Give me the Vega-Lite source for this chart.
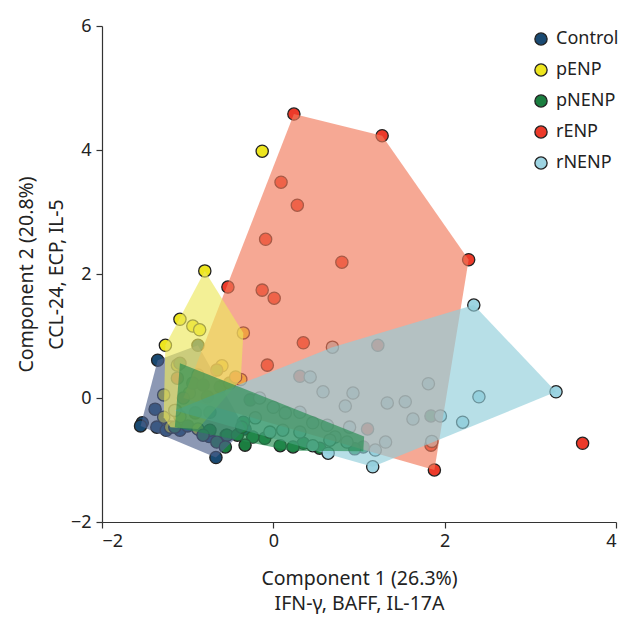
{
  "$schema": "https://vega.github.io/schema/vega-lite/v6.json",
  "autosize": "none",
  "width": 514,
  "height": 496,
  "padding": {"left": 102, "top": 26, "right": 5, "bottom": 96},
  "background": "white",
  "config": {
    "view": {"stroke": null},
    "font": "Noto Sans",
    "axis": {"grid": false, "domainColor": "#333", "tickColor": "#333", "tickSize": 6, "labelFontSize": 18, "labelColor": "#222", "titleFontSize": 19.5, "titleFontWeight": "normal", "titleColor": "#222", "domainWidth": 1.2, "tickWidth": 1.2, "format": "d"}
  },
  "datasets": {
    "pts": [
      {"g": "Control", "x": -1.35, "y": 0.61}, {"g": "Control", "x": -1.53, "y": -0.40}, {"g": "Control", "x": -1.55, "y": -0.45},
      {"g": "Control", "x": -0.67, "y": -0.96}, {"g": "Control", "x": -1.36, "y": -0.47}, {"g": "Control", "x": -1.38, "y": -0.18},
      {"g": "Control", "x": -1.25, "y": -0.52}, {"g": "Control", "x": -1.09, "y": -0.52}, {"g": "Control", "x": -0.83, "y": -0.56},
      {"g": "Control", "x": -0.88, "y": 0.85}, {"g": "Control", "x": -0.33, "y": -0.50}, {"g": "Control", "x": -1.00, "y": -0.45},
      {"g": "Control", "x": -0.55, "y": -0.60}, {"g": "Control", "x": -0.75, "y": -0.62},
      {"g": "pENP", "x": -0.13, "y": 3.98}, {"g": "pENP", "x": -0.80, "y": 2.05}, {"g": "pENP", "x": -1.09, "y": 1.27},
      {"g": "pENP", "x": -0.94, "y": 1.16}, {"g": "pENP", "x": -0.86, "y": 1.10}, {"g": "pENP", "x": -1.26, "y": 0.85},
      {"g": "pENP", "x": -0.35, "y": 1.05}, {"g": "pENP", "x": -1.28, "y": 0.05}, {"g": "pENP", "x": -1.28, "y": -0.31},
      {"g": "pENP", "x": -1.20, "y": -0.47}, {"g": "pENP", "x": -1.12, "y": 0.53}, {"g": "pENP", "x": -0.98, "y": 0.08},
      {"g": "pENP", "x": -1.14, "y": -0.20}, {"g": "pENP", "x": -1.09, "y": -0.30}, {"g": "pENP", "x": -0.88, "y": 0.37},
      {"g": "pENP", "x": -0.38, "y": 0.30}, {"g": "pENP", "x": -0.88, "y": -0.50}, {"g": "pENP", "x": -0.60, "y": 0.52},
      {"g": "pNENP", "x": 0.35, "y": -0.73}, {"g": "pNENP", "x": 0.23, "y": -0.79}, {"g": "pNENP", "x": -0.10, "y": -0.65},
      {"g": "pNENP", "x": -0.24, "y": -0.63}, {"g": "pNENP", "x": 1.05, "y": -0.79}, {"g": "pNENP", "x": -0.74, "y": -0.52},
      {"g": "pNENP", "x": -0.66, "y": -0.71}, {"g": "pNENP", "x": -0.54, "y": -0.60}, {"g": "pNENP", "x": -0.42, "y": -0.60},
      {"g": "pNENP", "x": -0.35, "y": -0.39}, {"g": "pNENP", "x": -0.37, "y": -0.47}, {"g": "pNENP", "x": -0.94, "y": 0.24},
      {"g": "pNENP", "x": -0.82, "y": 0.21}, {"g": "pNENP", "x": -0.77, "y": 0.02}, {"g": "pNENP", "x": -0.91, "y": -0.24},
      {"g": "pNENP", "x": -0.74, "y": -0.23}, {"g": "pNENP", "x": -0.62, "y": 0.18}, {"g": "pNENP", "x": -0.51, "y": 0.24},
      {"g": "pNENP", "x": -0.66, "y": 0.45}, {"g": "pNENP", "x": -0.56, "y": -0.79}, {"g": "pNENP", "x": -0.33, "y": -0.76},
      {"g": "pNENP", "x": 0.08, "y": -0.77}, {"g": "pNENP", "x": 0.54, "y": -0.81}, {"g": "pNENP", "x": 0.95, "y": -0.82},
      {"g": "pNENP", "x": -0.27, "y": -0.03}, {"g": "pNENP", "x": -0.82, "y": -0.60}, {"g": "pNENP", "x": 1.84, "y": -0.29},
      {"g": "pNENP", "x": -1.09, "y": 0.56}, {"g": "pNENP", "x": -1.15, "y": -0.47},
      {"g": "rENP", "x": 0.24, "y": 4.58}, {"g": "rENP", "x": 1.27, "y": 4.23}, {"g": "rENP", "x": 0.09, "y": 3.48},
      {"g": "rENP", "x": 0.28, "y": 3.11}, {"g": "rENP", "x": -0.09, "y": 2.56}, {"g": "rENP", "x": 0.80, "y": 2.19},
      {"g": "rENP", "x": 2.28, "y": 2.23}, {"g": "rENP", "x": -0.53, "y": 1.79}, {"g": "rENP", "x": -0.13, "y": 1.74},
      {"g": "rENP", "x": 0.01, "y": 1.61}, {"g": "rENP", "x": -0.07, "y": 0.53}, {"g": "rENP", "x": 0.35, "y": 0.89},
      {"g": "rENP", "x": 1.22, "y": 0.85}, {"g": "rENP", "x": 0.31, "y": 0.35}, {"g": "rENP", "x": 1.10, "y": -0.50},
      {"g": "rENP", "x": 1.84, "y": -0.76}, {"g": "rENP", "x": 1.88, "y": -1.16}, {"g": "rENP", "x": 3.61, "y": -0.73},
      {"g": "rENP", "x": -1.12, "y": 0.32}, {"g": "rENP", "x": -0.44, "y": 0.34}, {"g": "rENP", "x": -1.05, "y": 0.0},
      {"g": "rNENP", "x": 2.34, "y": 1.50}, {"g": "rNENP", "x": 3.30, "y": 0.10}, {"g": "rNENP", "x": 1.16, "y": -1.11},
      {"g": "rNENP", "x": 0.69, "y": 0.82}, {"g": "rNENP", "x": 0.43, "y": 0.34}, {"g": "rNENP", "x": 0.58, "y": 0.10},
      {"g": "rNENP", "x": 0.93, "y": 0.08}, {"g": "rNENP", "x": 0.84, "y": -0.13}, {"g": "rNENP", "x": 1.33, "y": -0.08},
      {"g": "rNENP", "x": 0.89, "y": -0.47}, {"g": "rNENP", "x": 1.31, "y": -0.71}, {"g": "rNENP", "x": 0.64, "y": -0.89},
      {"g": "rNENP", "x": 1.19, "y": -0.84}, {"g": "rNENP", "x": 1.54, "y": -0.06}, {"g": "rNENP", "x": 1.81, "y": 0.23},
      {"g": "rNENP", "x": 1.63, "y": -0.34}, {"g": "rNENP", "x": 1.95, "y": -0.29}, {"g": "rNENP", "x": 2.21, "y": -0.39},
      {"g": "rNENP", "x": 2.40, "y": 0.02}, {"g": "rNENP", "x": 1.85, "y": -0.70}, {"g": "rNENP", "x": 0.11, "y": -0.52},
      {"g": "rNENP", "x": 0.31, "y": -0.55}, {"g": "rNENP", "x": 0.46, "y": -0.40}, {"g": "rNENP", "x": 0.63, "y": -0.44},
      {"g": "rNENP", "x": 0.72, "y": -0.63}, {"g": "rNENP", "x": 0.86, "y": -0.71}, {"g": "rNENP", "x": 0.66, "y": -0.68},
      {"g": "rNENP", "x": 0.46, "y": -0.77}, {"g": "rNENP", "x": -0.04, "y": -0.55}, {"g": "rNENP", "x": -0.21, "y": -0.32},
      {"g": "rNENP", "x": 0.0, "y": -0.15}, {"g": "rNENP", "x": 0.14, "y": -0.24}, {"g": "rNENP", "x": 0.31, "y": -0.23},
      {"g": "rNENP", "x": -0.16, "y": 0.0}, {"g": "rNENP", "x": -1.15, "y": -0.20}
    ],
    "hull": [
      {"g": "Control", "i": 1, "x": -1.35, "y": 0.61}, {"g": "Control", "i": 2, "x": -0.88, "y": 0.85}, {"g": "Control", "i": 3, "x": -0.33, "y": -0.50},
      {"g": "Control", "i": 4, "x": -0.67, "y": -0.96}, {"g": "Control", "i": 5, "x": -1.55, "y": -0.45},
      {"g": "rENP", "i": 1, "x": 0.24, "y": 4.58}, {"g": "rENP", "i": 2, "x": 1.27, "y": 4.23}, {"g": "rENP", "i": 3, "x": 2.28, "y": 2.23},
      {"g": "rENP", "i": 4, "x": 1.88, "y": -1.16}, {"g": "rENP", "i": 5, "x": -1.05, "y": 0.0},
      {"g": "pENP", "i": 1, "x": -0.80, "y": 2.05}, {"g": "pENP", "i": 2, "x": -0.35, "y": 1.05}, {"g": "pENP", "i": 3, "x": -0.38, "y": 0.30},
      {"g": "pENP", "i": 4, "x": -0.88, "y": -0.50}, {"g": "pENP", "i": 5, "x": -1.20, "y": -0.47}, {"g": "pENP", "i": 6, "x": -1.28, "y": -0.31},
      {"g": "pENP", "i": 7, "x": -1.26, "y": 0.85},
      {"g": "rNENP", "i": 1, "x": 2.34, "y": 1.50}, {"g": "rNENP", "i": 2, "x": 3.30, "y": 0.10}, {"g": "rNENP", "i": 3, "x": 1.16, "y": -1.11},
      {"g": "rNENP", "i": 4, "x": -1.15, "y": -0.20}, {"g": "rNENP", "i": 5, "x": 0.69, "y": 0.82},
      {"g": "pNENP", "i": 1, "x": -1.09, "y": 0.56}, {"g": "pNENP", "i": 2, "x": 1.06, "y": -0.62}, {"g": "pNENP", "i": 3, "x": 1.05, "y": -0.86},
      {"g": "pNENP", "i": 4, "x": 0.20, "y": -0.85}, {"g": "pNENP", "i": 5, "x": -1.15, "y": -0.47}
    ]
  },
  "layer": [
    {
      "data": {"name": "pts"},
      "mark": {"type": "circle", "size": 150, "opacity": 1, "stroke": "#222", "strokeWidth": 1.3},
      "encoding": {
        "x": {"field": "x", "type": "quantitative", "scale": {"domain": [-2, 4], "nice": false, "zero": false},
              "axis": {"values": [-2, 0, 2, 4], "title": ["Component 1 (26.3%)", "IFN-γ, BAFF, IL-17A"], "titlePadding": 19, "titleLineHeight": 25, "labelPadding": 4}},
        "y": {"field": "y", "type": "quantitative", "scale": {"domain": [-2, 6], "nice": false, "zero": false},
              "axis": {"values": [-2, 0, 2, 4, 6], "title": ["Component 2 (20.8%)", "CCL-24, ECP, IL-5"], "titlePadding": 4, "titleLineHeight": 30, "labelPadding": 5}},
        "fill": {"field": "g", "type": "nominal",
                 "scale": {"domain": ["Control", "pENP", "pNENP", "rENP", "rNENP"], "range": ["#1A4A72", "#EDE51F", "#1B7E40", "#EC3A2A", "#9DD4E2"]},
                 "legend": {"title": null, "orient": "none", "legendX": 430, "legendY": 4, "labelFontSize": 18, "labelColor": "#222", "symbolType": "circle", "symbolSize": 150, "symbolStrokeColor": "#222", "symbolStrokeWidth": 1.3, "symbolOpacity": 1, "rowPadding": 13, "labelOffset": 6}}
      }
    },
    {"data": {"name": "hull"}, "transform": [{"filter": "datum.g === 'Control'"}],
     "mark": {"type": "line", "interpolate": "linear-closed", "fill": "#4E618C", "fillOpacity": 0.65, "strokeWidth": 0},
     "encoding": {"x": {"field": "x", "type": "quantitative"}, "y": {"field": "y", "type": "quantitative"}, "order": {"field": "i"}}},
    {"data": {"name": "hull"}, "transform": [{"filter": "datum.g === 'rENP'"}],
     "mark": {"type": "line", "interpolate": "linear-closed", "fill": "#F17A5A", "fillOpacity": 0.65, "strokeWidth": 0},
     "encoding": {"x": {"field": "x", "type": "quantitative"}, "y": {"field": "y", "type": "quantitative"}, "order": {"field": "i"}}},
    {"data": {"name": "hull"}, "transform": [{"filter": "datum.g === 'pENP'"}],
     "mark": {"type": "line", "interpolate": "linear-closed", "fill": "#EDE85D", "fillOpacity": 0.65, "strokeWidth": 0},
     "encoding": {"x": {"field": "x", "type": "quantitative"}, "y": {"field": "y", "type": "quantitative"}, "order": {"field": "i"}}},
    {"data": {"name": "hull"}, "transform": [{"filter": "datum.g === 'rNENP'"}],
     "mark": {"type": "line", "interpolate": "linear-closed", "fill": "#90CEDA", "fillOpacity": 0.65, "strokeWidth": 0},
     "encoding": {"x": {"field": "x", "type": "quantitative"}, "y": {"field": "y", "type": "quantitative"}, "order": {"field": "i"}}},
    {"data": {"name": "hull"}, "transform": [{"filter": "datum.g === 'pNENP'"}],
     "mark": {"type": "line", "interpolate": "linear-closed", "fill": "#238C50", "fillOpacity": 0.65, "strokeWidth": 0},
     "encoding": {"x": {"field": "x", "type": "quantitative"}, "y": {"field": "y", "type": "quantitative"}, "order": {"field": "i"}}}
  ]
}
